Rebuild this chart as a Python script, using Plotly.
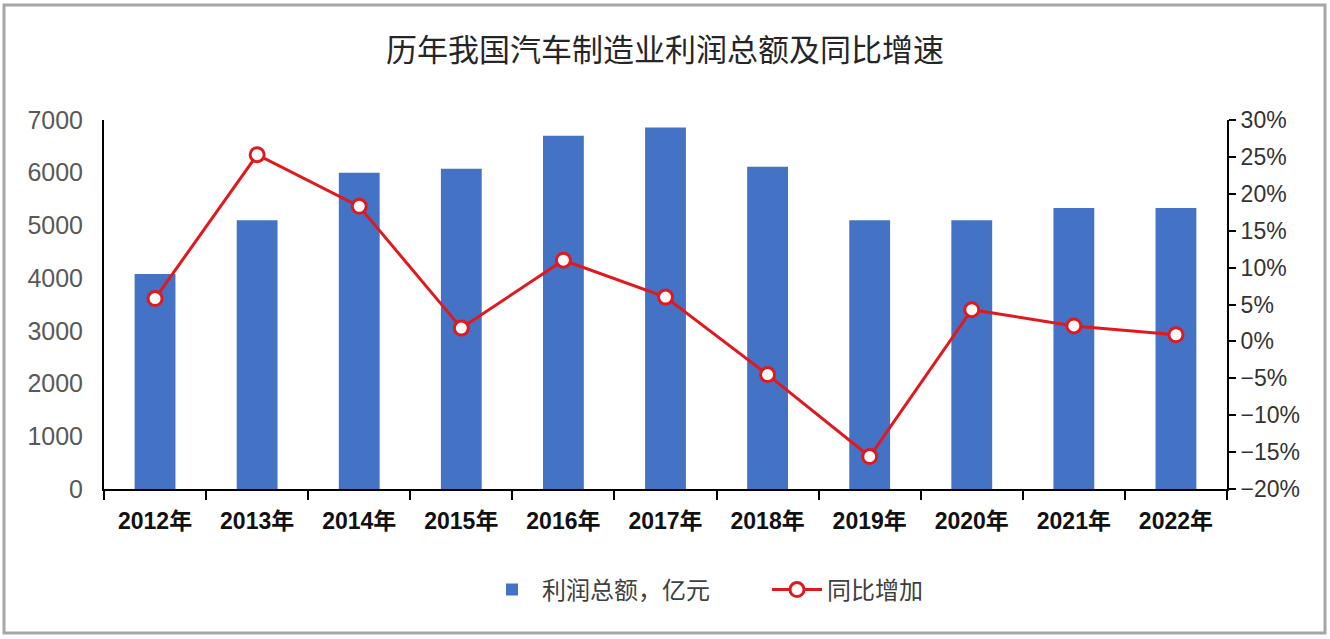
import plotly.graph_objects as go

years = ["2012年", "2013年", "2014年", "2015年", "2016年", "2017年",
         "2018年", "2019年", "2020年", "2021年", "2022年"]
profit = [4080, 5100, 6000, 6075, 6700, 6860, 6115, 5100, 5100, 5330, 5330]
growth = [5.8, 25.3, 18.3, 1.8, 11.0, 6.0, -4.5, -15.6, 4.3, 2.1, 0.9]

bar_name = "利润总额，亿元"
line_name = "同比增加"
title_text = "历年我国汽车制造业利润总额及同比增速"

W, H = 1330, 639
ML, MR, MT, MB = 104, 103, 120, 150
PW, PH = W - ML - MR, H - MT - MB

def px_x(p):
    return (p - ML) / PW

def px_y(p):
    return (H - MB - p) / PH

FONT = "Liberation Sans, Arial, Noto Sans CJK SC, sans-serif"
CJK = "Noto Sans CJK SC, Liberation Sans, sans-serif"

fig = go.Figure()
fig.add_trace(go.Bar(
    x=years, y=profit, name=bar_name,
    marker=dict(color="#4472C4", line=dict(width=0)),
    width=0.4, yaxis="y",
))
fig.add_trace(go.Scatter(
    x=years, y=growth, name=line_name, mode="lines+markers",
    line=dict(color="#E0191F", width=3),
    marker=dict(symbol="circle", size=14, color="white",
                line=dict(color="#E0191F", width=3)),
    yaxis="y2",
))

fig.update_layout(
    width=W, height=H,
    margin=dict(l=ML, r=MR, t=MT, b=MB),
    paper_bgcolor="white", plot_bgcolor="white",
    title=dict(text=title_text, x=0.5, xanchor="center",
               y=1 - 50 / H, yanchor="middle",
               font=dict(family=CJK, size=31, color="#262626")),
    showlegend=True,
    legend=dict(orientation="h", x=px_x(482), xanchor="left",
                y=px_y(590), yanchor="middle",
                font=dict(family=CJK, size=24, color="#404040"),
                itemwidth=50, entrywidth=220, entrywidthmode="pixels",
                tracegroupgap=0),
    bargap=0.6,
    xaxis=dict(
        type="category", showline=True, linecolor="#000000", linewidth=2,
        ticks="outside", ticklen=9, tickwidth=2, tickcolor="#000000",
        tickson="boundaries", showgrid=False, zeroline=False,
        tickfont=dict(family=FONT, size=23, color="#111111", weight="bold"),
        ticklabelstandoff=10,
        range=[-0.5, len(years) - 0.5],
    ),
    yaxis=dict(
        range=[0, 7000], dtick=1000, showline=True, linecolor="#000000",
        linewidth=2, ticks="", showgrid=False, zeroline=False,
        tickfont=dict(family=FONT, size=25, color="#595959"),
        ticklabelstandoff=14,
    ),
    yaxis2=dict(
        range=[-20, 30], dtick=5, overlaying="y", side="right",
        showline=True, linecolor="#000000", linewidth=2,
        ticks="outside", ticklen=7, tickwidth=2, tickcolor="#000000",
        ticksuffix="%", showgrid=False, zeroline=False,
        tickfont=dict(family=FONT, size=23, color="#333333"),
    ),
    shapes=[dict(type="rect", xref="paper", yref="paper",
                 x0=px_x(4), x1=px_x(1325), y0=px_y(633), y1=px_y(5),
                 line=dict(color="#A6A6A6", width=3), fillcolor="rgba(0,0,0,0)",
                 layer="below")],
)

fig.write_html("out.html")
